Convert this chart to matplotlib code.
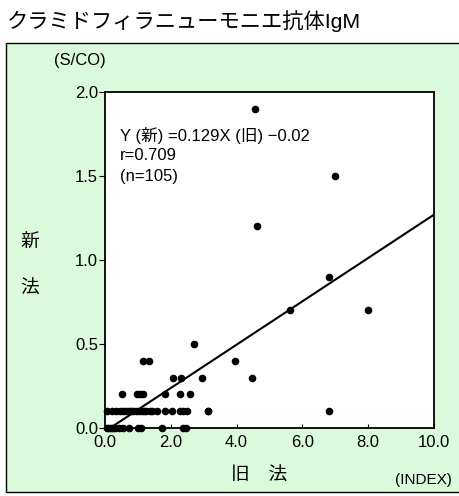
import matplotlib
matplotlib.use("Agg")
import matplotlib.pyplot as plt
from matplotlib.patches import Rectangle
import numpy as np

plt.rcParams['font.family'] = ['Liberation Sans', 'Noto Sans CJK JP', 'DejaVu Sans']

title = "クラミドフィラニューモニエ抗体IgM"
x_label = "旧　法"
y_label_chars = ["新", "法"]
y_unit = "(S/CO)"
x_unit = "(INDEX)"
annotation = ["Y (新) =0.129X (旧) \u22120.02", "r=0.709", "(n=105)"]

slope = 0.129
intercept = -0.02

x_ticks = [0.0, 2.0, 4.0, 6.0, 8.0, 10.0]
y_ticks = [0.0, 0.5, 1.0, 1.5, 2.0]

# old method (INDEX)
old_vals = [
    4.57, 7.0, 4.62, 6.8, 5.62, 8.0, 3.95, 4.48, 2.95, 3.14, 6.8,
    2.69, 1.16, 1.34, 2.08, 2.30,
    0.52, 0.97, 1.06, 1.16, 1.81, 2.27, 2.58,
    0.07, 0.2, 0.33, 0.47, 0.55, 0.64, 0.72, 0.78, 0.86, 0.94, 1.04, 1.11,
    1.18, 1.26, 1.36, 1.43, 1.59, 1.81, 2.04, 2.27, 2.37, 2.48, 3.13,
    0.07, 0.13, 0.19, 0.25, 0.31, 0.43, 0.55, 0.74, 1.01, 1.08, 1.73, 2.37, 2.45,
]
# new method (S/CO)
new_vals = [
    1.9, 1.5, 1.2, 0.9, 0.7, 0.7, 0.4, 0.3, 0.3, 0.1, 0.1,
    0.5, 0.4, 0.4, 0.3, 0.3,
    0.2, 0.2, 0.2, 0.2, 0.2, 0.2, 0.2,
    0.1, 0.1, 0.1, 0.1, 0.1, 0.1, 0.1, 0.1, 0.1, 0.1, 0.1, 0.1,
    0.1, 0.1, 0.1, 0.1, 0.1, 0.1, 0.1, 0.1, 0.1, 0.1, 0.1,
    0.0, 0.0, 0.0, 0.0, 0.0, 0.0, 0.0, 0.0, 0.0, 0.0, 0.0, 0.0, 0.0,
]

W, H = 460, 496
fig = plt.figure(figsize=(W / 100, H / 100), dpi=100)
fig.patch.set_facecolor("white")

# green panel
panel = Rectangle((6 / W, 1 - 492 / H), (W + 10 - 6) / W, (492 - 43) / H,
                  transform=fig.transFigure, facecolor="#dafadb",
                  edgecolor="black", linewidth=1.0, zorder=-5)
fig.patches.append(panel)

fig.text(7 / W, 1 - 21 / H, title, fontsize=15.3, ha="left", va="center")

left, right, top, bottom = 105, 434, 92, 428
ax = fig.add_axes([left / W, 1 - bottom / H, (right - left) / W, (bottom - top) / H])
ax.set_zorder(2)
ax.set_facecolor("white")
ax.set_xlim(0, 10)
ax.set_ylim(0, 2.0)
for s in ax.spines.values():
    s.set_linewidth(1.3)
    s.set_color("black")

ax.set_xticks(x_ticks)
ax.set_xticklabels([f"{v:.1f}" for v in x_ticks], fontsize=12)
ax.set_yticks(y_ticks)
ax.set_yticklabels([f"{v:.1f}" for v in y_ticks], fontsize=12)
ax.tick_params(axis="x", direction="in", length=3, width=0.8, pad=5)
ax.tick_params(axis="y", direction="out", length=4, width=0.8, pad=1)

xs = np.linspace(0.16, 10, 100)
ax.plot(xs, slope * xs + intercept, color="black", linewidth=1.5, zorder=2,
        clip_on=True)
ax.scatter(old_vals, new_vals, s=20, color="black", zorder=3, clip_on=False)

for i, line in enumerate(annotation):
    fig.text(120 / W, 1 - (136 + i * 20) / H, line, fontsize=12,
             ha="left", va="center")

fig.text(80 / W, 1 - 60 / H, y_unit, fontsize=12, ha="center", va="center")
fig.text(30 / W, 1 - 243 / H, y_label_chars[0], fontsize=13.5, ha="center", va="center")
fig.text(30 / W, 1 - 289 / H, y_label_chars[1], fontsize=13.5, ha="center", va="center")
fig.text(259 / W, 1 - 476 / H, x_label, fontsize=13.5, ha="center", va="center")
fig.text(423 / W, 1 - 480 / H, x_unit, fontsize=11, ha="center", va="center")

fig.savefig("out.png", dpi=100)
